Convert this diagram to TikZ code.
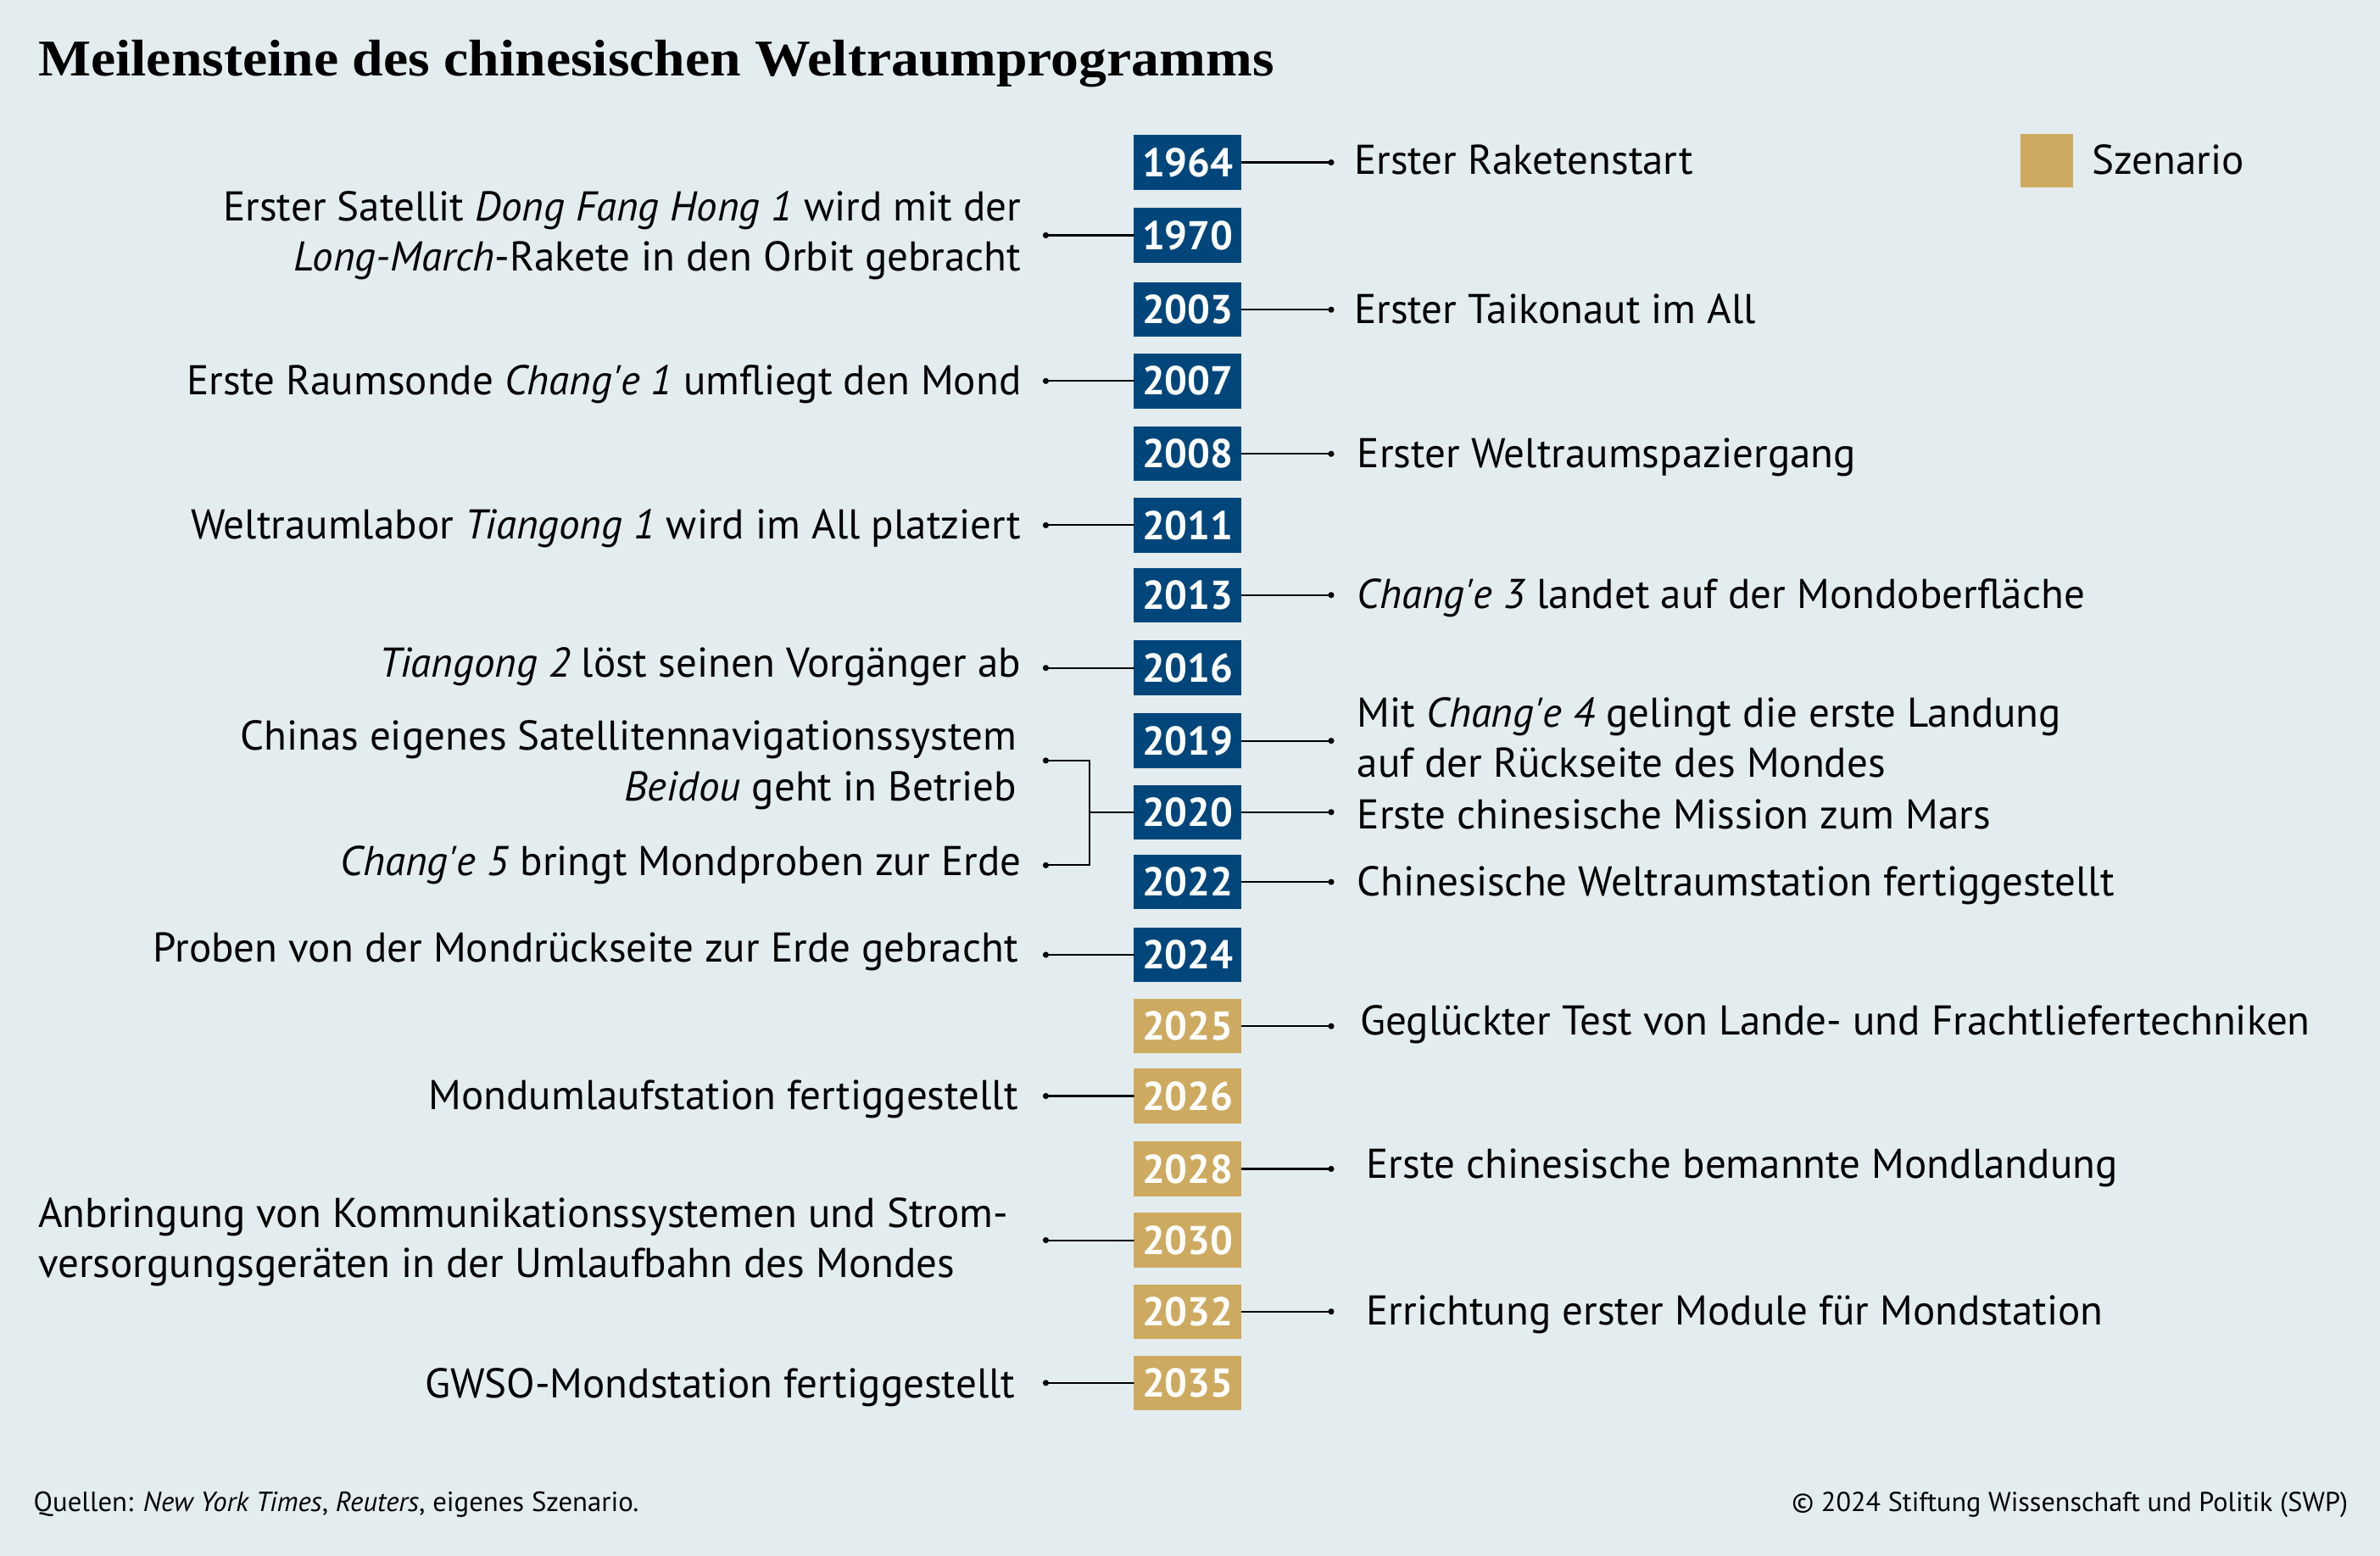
\documentclass[tikz,border=0pt]{standalone}
\usepackage{fontspec}
\setmainfont{PT Sans}
\newfontfamily\titlefont{Liberation Serif}
\newcommand\apo{\textquotesingle}
\definecolor{bg}{HTML}{E3ECEF}
\definecolor{swpblue}{HTML}{00467A}
\definecolor{swpgold}{HTML}{CDAA60}
\begin{document}
\begin{tikzpicture}[x=1pt,y=-1pt,
  yearbox/.style={minimum width=71pt,minimum height=36pt,inner sep=0pt,text=white,font=\fontsize{26.5}{26.5}\selectfont\bfseries},
  past/.style={yearbox,fill=swpblue},
  scen/.style={yearbox,fill=swpgold},
  rtext/.style={anchor=base west,inner sep=0pt,align=left,font=\fontsize{27.4}{33}\selectfont},
  ltext/.style={anchor=base east,inner sep=0pt,align=right,font=\fontsize{27.4}{33}\selectfont},
  rtwo/.style={anchor=west,inner sep=0pt,align=left,font=\fontsize{27.4}{33}\selectfont},
  ltwo/.style={anchor=east,inner sep=0pt,align=right,font=\fontsize{27.4}{33}\selectfont},
  conn/.style={line width=1.2pt,line cap=round},
  dotc/.style={circle,fill=black,inner sep=0pt,minimum size=4pt}
]
\fill[bg] (0,0) rectangle (1568,1025);
\useasboundingbox (0,0) rectangle (1568,1025);

\node[anchor=base west,inner sep=0pt,font=\titlefont\fontsize{34}{34}\selectfont\bfseries] (title) at (25,50) {\scalebox{1.08}[1]{Meilensteine des chinesischen Weltraumprogramms}};

% legend
\node[fill=swpgold,minimum width=35pt,minimum height=35pt,inner sep=0pt] (leg) at (1348.5,106) {};
\node[rtext] (legt) at (1378,115) {Szenario};

% year boxes
\foreach \yr/\yc/\st in {1964/107/past,1970/155/past,2003/204/past,2007/251/past,2008/299/past,2011/346/past,2013/392/past,2016/440/past,2019/488/past,2020/535/past,2022/581/past,2024/629/past,2025/676/scen,2026/722/scen,2028/770/scen,2030/817/scen,2032/864/scen,2035/911/scen}{
  \node[\st] (y\yr) at (782.5,\yc) {\yr};
}

% right side
\foreach \yr/\yc in {1964/107,2003/204,2008/299,2013/392,2019/488,2020/535,2022/581,2025/676,2028/770,2032/864}{
  \coordinate (r\yr) at (877,\yc);
  \draw[conn] (y\yr.east) -- (r\yr);
  \node[dotc] at (r\yr) {};
}
\node[rtext] (t1964) at (892,115) {Erster Raketenstart};
\node[rtext] (t2003) at (892,213) {Erster Taikonaut im All};
\node[rtext] (t2008) at (894,308) {Erster Weltraumspaziergang};
\node[rtext] (t2013) at (894,401) {\textit{Chang\apo e 3} landet auf der Mondoberfläche};
\node[rtwo] (t2019) at (894,486) {Mit \textit{Chang\apo e 4} gelingt die erste Landung\\auf der Rückseite des Mondes};
\node[rtext] (t2020) at (894,546) {Erste chinesische Mission zum Mars};
\node[rtext] (t2022) at (894,590) {Chinesische Weltraumstation fertiggestellt};
\node[rtext] (t2025) at (896,682) {Geglückter Test von Lande- und Frachtliefertechniken};
\node[rtext] (t2028) at (900,776) {Erste chinesische bemannte Mondlandung};
\node[rtext] (t2032) at (900,873) {Errichtung erster Module für Mondstation};

% left side
\foreach \yr/\yc in {1970/155,2007/251,2011/346,2016/440,2024/629,2026/722,2030/817,2035/911}{
  \coordinate (l\yr) at (689,\yc);
  \draw[conn] (y\yr.west) -- (l\yr);
  \node[dotc] at (l\yr) {};
}
\node[ltwo] (t1970) at (673,155) {Erster Satellit \textit{Dong Fang Hong 1} wird mit der\\\textit{Long-March}-Rakete in den Orbit gebracht};
\node[ltext] (t2007) at (673,260) {Erste Raumsonde \textit{Chang\apo e 1} umfliegt den Mond};
\node[ltext] (t2011) at (673,355) {Weltraumlabor \textit{Tiangong 1} wird im All platziert};
\node[ltext] (t2016) at (673,446) {\textit{Tiangong 2} löst seinen Vorgänger ab};
\node[ltext] (t2024) at (671,634) {Proben von der Mondrückseite zur Erde gebracht};
\node[ltext] (t2026) at (671,731) {Mondumlaufstation fertiggestellt};
\node[rtwo] (t2030) at (25,818) {Anbringung von Kommunikationssystemen und Strom-\\versorgungsgeräten in der Umlaufbahn des Mondes};
\node[ltext] (t2035) at (669,921) {GWSO-Mondstation fertiggestellt};

% bracket for 2020
\coordinate (ba) at (689,501);
\coordinate (bb) at (689,570);
\coordinate (bm) at (718,535);
\draw[conn] (ba) -- (718,501) -- (718,570) -- (bb);
\draw[conn] (bm) -- (y2020.west);
\node[dotc] at (ba) {};
\node[dotc] at (bb) {};
\node[ltwo] (t2020a) at (670,504) {Chinas eigenes Satellitennavigationssystem\\\textit{Beidou} geht in Betrieb};
\node[ltext] (t2020b) at (673,577) {\textit{Chang\apo e 5} bringt Mondproben zur Erde};

% footer
\node[anchor=west,inner sep=0pt,font=\fontsize{18.3}{20}\selectfont] (src) at (22,991) {Quellen: \textit{New York Times}, \textit{Reuters}, eigenes Szenario.};
\node[anchor=east,inner sep=0pt,font=\fontsize{18}{20}\selectfont] (copy) at (1547,991) {© 2024 Stiftung Wissenschaft und Politik (SWP)};
\end{tikzpicture}
\end{document}
